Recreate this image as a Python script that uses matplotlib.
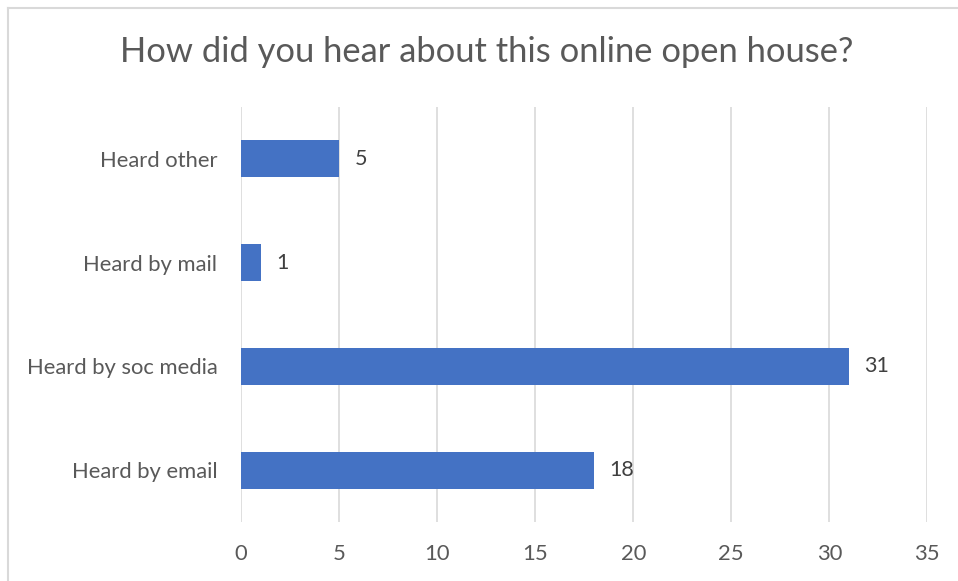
import matplotlib.pyplot as plt
from matplotlib.lines import Line2D

plt.rcParams['font.family'] = ['Lato', 'DejaVu Sans']

categories = ['Heard by email', 'Heard by soc media', 'Heard by mail', 'Heard other']
counts = [18, 31, 1, 5]
xticks = [0, 5, 10, 15, 20, 25, 30, 35]

bar_color = '#4472C4'
text_color = '#595959'

fig = plt.figure(figsize=(9.58, 5.81), dpi=100)
ax = fig.add_axes([0.2516, 0.1015, 0.7164, 0.7143])

ax.barh(range(len(categories)), counts, height=0.355, color=bar_color, zorder=3)
for i, v in enumerate(counts):
    ax.annotate(str(v), (v, i), xytext=(11, 0), textcoords='offset points',
                va='center', ha='left', fontsize=15.5, color='#404040')

ax.set_xlim(0, 35)
ax.set_ylim(-0.5, len(categories) - 0.5)
ax.set_xticks(xticks)
ax.set_yticks(range(len(categories)))
ax.set_yticklabels(categories)
ax.tick_params(axis='both', length=0, labelsize=15.8, labelcolor=text_color)
ax.tick_params(axis='y', pad=17)
ax.tick_params(axis='x', pad=16)
ax.grid(axis='x', color='#D9D9D9', linewidth=1.2, zorder=0)
for s in ax.spines.values():
    s.set_visible(False)

fig.text(0.508, 0.911, 'How did you hear about this online open house?',
         ha='center', va='center', fontsize=24.8, color=text_color)

# outer chart border (top and left visible)
fig.add_artist(Line2D([8/958, 8/958], [0, 1 - 8/581], color='#D9D9D9', lw=1.5))
fig.add_artist(Line2D([8/958, 1], [1 - 8/581, 1 - 8/581], color='#D9D9D9', lw=1.5))

fig.savefig('out.png', dpi=100)
